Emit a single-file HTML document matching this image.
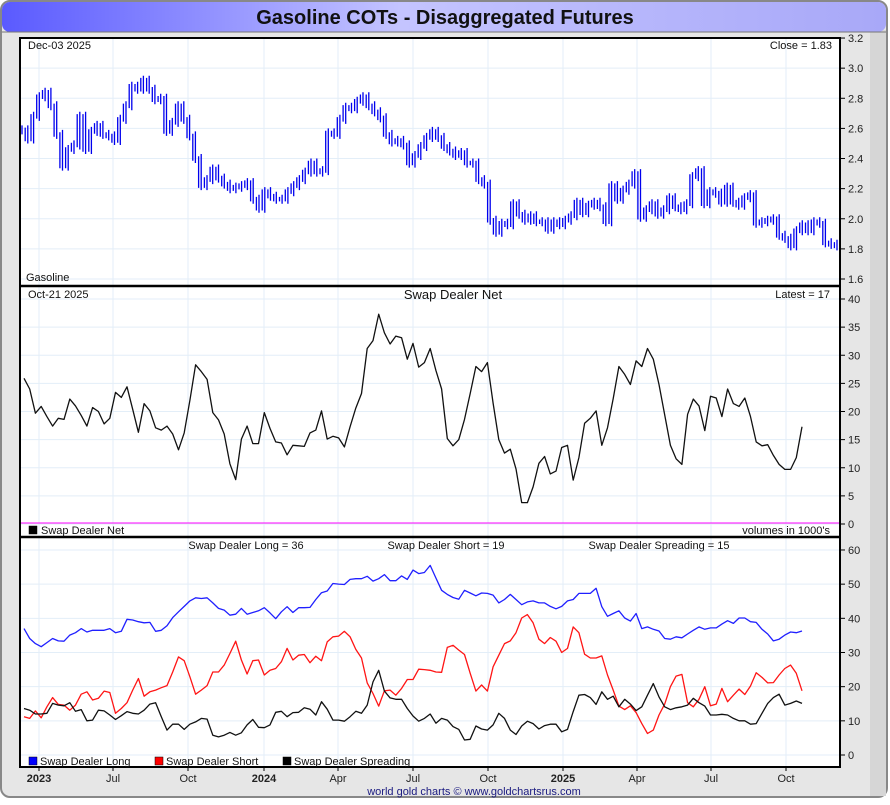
<!DOCTYPE html>
<html><head><meta charset="utf-8">
<style>
html,body{margin:0;padding:0;background:#fff;}
body{width:890px;height:800px;overflow:hidden;font-family:"Liberation Sans",sans-serif;}
svg text{font-family:"Liberation Sans",sans-serif;}
</style></head>
<body>
<svg id="chart" width="890" height="800" viewBox="0 0 890 800" xmlns="http://www.w3.org/2000/svg">
<defs>
<linearGradient id="tg" x1="0" x2="1" y1="0" y2="0">
<stop offset="0" stop-color="#5a5aff"/><stop offset="0.45" stop-color="#c4c4ff"/><stop offset="1" stop-color="#a8a8f8"/>
</linearGradient>
</defs>
<rect x="0" y="0" width="890" height="800" fill="#ffffff"/>
<rect x="1" y="1" width="886" height="796" rx="9" fill="#e6e6e6" stroke="#888" stroke-width="2"/>
<rect x="870" y="30" width="16" height="766" fill="#d6d6d6"/>
<rect x="2" y="2" width="884" height="30" rx="8" fill="url(#tg)"/>
<line x1="2" y1="32" x2="886" y2="32" stroke="#777" stroke-width="1"/>
<text x="445" y="24" text-anchor="middle" font-size="20" font-weight="bold" fill="#111">Gasoline COTs - Disaggregated Futures</text>
<rect x="20" y="38" width="820" height="729" fill="#fff"/>
<g id="grid"></g>
<g id="series"></g>
<g id="axes"></g>
</svg>
<script>
// ---- data ----
const priceVals = [2.59,2.53,2.68,2.81,2.84,2.75,2.56,2.35,2.46,2.49,2.68,2.46,2.58,2.62,2.56,2.55,2.52,2.66,2.75,2.88,2.86,2.92,2.86,2.79,2.80,2.58,2.64,2.75,2.66,2.55,2.40,2.22,2.26,2.33,2.27,2.23,2.20,2.21,2.22,2.24,2.13,2.07,2.18,2.15,2.13,2.13,2.18,2.22,2.26,2.31,2.37,2.31,2.32,2.57,2.56,2.66,2.74,2.73,2.78,2.81,2.75,2.71,2.67,2.56,2.51,2.52,2.49,2.37,2.42,2.48,2.54,2.58,2.54,2.48,2.45,2.42,
2.44,2.37,2.37,2.26,2.23,1.99,1.91,1.97,1.96,2.10,2.03,1.99,2.02,1.98,1.98,1.93,1.98,1.96,1.99,2.02,2.11,2.04,2.09,2.11,2.08,1.98,2.22,2.13,2.19,2.23,2.30,2.01,2.06,2.10,2.03,2.06,2.14,2.08,2.06,2.10,2.28,2.32,2.10,2.18,2.17,2.11,2.21,2.11,2.09,2.14,2.16,1.97,1.98,1.99,2.00,1.89,1.87,1.82,1.92,1.96,1.92,1.98,1.97,1.84,1.83,1.82];
const netVals = [25.9,24.0,19.7,20.9,19.1,17.4,18.8,18.6,22.2,21.0,19.3,17.4,20.7,20.0,17.8,18.8,23.4,22.5,24.4,20.4,16.3,21.4,20.1,17.1,16.7,17.4,16.0,13.2,16.2,22.0,28.3,27.1,25.7,19.8,18.5,16.0,10.7,7.9,15.1,17.4,14.3,14.3,19.8,17.0,14.6,14.4,12.3,14.0,13.9,13.8,16.2,16.7,20.1,15.1,15.6,15.3,13.7,17.3,20.6,23.2,31.2,32.6,37.3,34.0,32.0,33.4,33.1,29.3,32.1,27.9,28.7,31.2,27.3,
24.0,15.2,13.9,15.0,18.6,23.2,28.0,27.1,28.7,21.5,15.0,12.6,13.3,9.8,3.8,3.8,6.6,10.8,12.0,8.9,9.4,13.6,14.0,7.8,11.8,17.9,18.8,20.1,14.0,17.1,22.3,28.0,26.6,24.8,29.0,28.0,31.2,29.3,24.8,19.4,14.0,11.6,10.6,19.5,22.2,21.0,16.6,22.7,22.4,19.1,24.0,21.4,20.9,22.4,19.1,14.6,13.9,14.1,12.2,10.6,9.7,9.7,11.8,17.3];
const longVals = [37.0,34.1,32.6,31.7,32.9,34.1,33.4,33.3,35.1,35.8,37.0,36.0,36.5,36.5,36.5,37.0,35.8,36.2,39.7,39.5,39.0,38.7,38.8,36.2,36.5,37.8,40.2,41.9,43.5,45.1,46.0,45.8,46.0,44.5,42.9,42.4,40.9,41.2,42.9,41.2,41.7,42.2,43.1,41.6,39.9,41.9,43.4,41.7,43.1,43.1,43.2,45.5,47.5,48.0,50.2,50.0,49.9,51.4,51.6,51.6,52.3,50.9,51.6,52.8,51.0,51.0,52.4,51.4,54.1,53.1,53.4,55.5,51.8,
48.2,47.0,46.1,45.6,48.2,47.4,46.6,47.4,47.3,46.8,44.5,45.5,47.0,45.5,44.0,44.8,45.1,44.5,44.5,43.5,42.8,43.5,45.1,45.5,47.3,47.3,47.3,48.8,43.4,40.6,41.4,42.2,40.1,39.2,41.4,37.0,37.5,36.8,36.3,34.1,33.9,34.6,34.3,35.4,36.5,37.5,36.8,37.2,37.2,38.3,39.3,38.5,40.1,40.1,39.0,38.8,36.8,35.4,33.4,33.9,35.1,36.0,35.8,36.3];
const shortVals = [11.2,10.7,12.9,10.9,14.1,16.8,14.8,14.6,13.1,14.6,17.8,18.5,16.1,16.6,18.7,18.3,12.2,13.6,15.3,19.0,22.4,17.2,18.5,19.0,19.7,20.3,24.3,28.7,27.6,22.9,17.8,19.0,20.3,24.3,24.3,26.3,29.7,33.3,27.8,23.7,27.6,27.8,23.4,24.8,25.3,27.3,31.2,27.8,29.2,29.4,27.0,28.9,27.6,33.1,34.6,34.8,36.2,34.6,30.9,28.4,21.1,18.0,14.3,18.8,19.0,17.5,19.5,22.1,22.1,25.1,25.0,24.8,24.3,
24.2,31.5,32.1,30.7,29.4,23.9,18.7,20.5,18.7,25.8,29.2,32.6,33.4,35.8,40.1,41.1,38.7,33.9,32.6,34.4,33.3,30.0,31.2,37.5,35.8,29.5,28.4,28.4,29.0,23.4,19.0,14.3,13.3,14.4,12.4,9.2,6.3,7.3,11.7,14.9,20.0,23.1,23.6,15.3,14.1,16.3,20.0,14.4,14.9,19.5,15.6,17.5,19.3,17.7,20.2,24.1,22.7,21.1,21.2,23.4,25.3,26.3,23.9,18.8];
const spreadVals = [13.6,13.1,12.0,12.0,12.2,15.1,14.6,14.4,15.3,12.8,13.3,10.0,10.2,13.1,12.9,11.7,10.4,11.5,12.7,12.2,12.0,13.1,14.9,15.3,11.2,7.3,9.0,9.0,7.5,9.0,9.7,10.7,10.5,5.8,5.3,5.8,6.6,5.8,6.5,8.8,10.4,8.1,8.0,8.8,12.5,12.8,11.2,12.4,12.5,13.8,13.4,11.7,15.6,13.4,10.2,10.2,9.9,11.2,12.8,12.2,14.6,21.4,24.8,18.7,16.7,16.3,16.3,13.6,11.4,9.9,10.7,12.0,9.3,
10.7,10.2,8.3,7.5,4.4,4.6,8.5,7.6,7.3,8.8,12.2,10.7,7.3,6.0,8.5,9.9,9.2,7.6,8.6,9.0,9.0,6.8,7.5,12.7,17.5,17.7,16.8,14.8,18.5,16.3,17.2,14.1,16.3,14.9,13.0,14.1,17.5,20.9,17.0,14.1,13.3,13.8,14.1,14.6,16.6,15.3,14.3,11.7,11.7,11.9,11.7,10.7,10.0,10.0,9.0,9.2,12.2,15.1,16.8,17.8,14.6,15.1,15.8,15.1];
const xLabels = ["2023","Jul","Oct","2024","Apr","Jul","Oct","2025","Apr","Jul","Oct"];
const priceTicks = [3.2,3.0,2.8,2.6,2.4,2.2,2.0,1.8,1.6];
const netTicks = [40,35,30,25,20,15,10,5,0];
const legTicks = [60,50,40,30,20,10,0];

// ---- layout ----
const NS = "http://www.w3.org/2000/svg";
const L = 20, R = 840;
const xLabelPx = [39,113,188,264,338,413,488,563,637,711,786];
const yP = v => 279 - (v - 1.6) * 150.6;
const yN = v => 524 - v * 5.625;
const yL = v => 755 - v * 3.417;
const xPrice = i => 22 + i * (837 - 22) / (priceVals.length - 1);
const xCot = i => 24 + i * (802 - 24) / (netVals.length - 1);

function mk(tag, attrs, parent, txt){
  const e = document.createElementNS(NS, tag);
  for (const k in attrs) e.setAttribute(k, attrs[k]);
  if (txt !== undefined) e.textContent = txt;
  parent.appendChild(e);
  return e;
}
const grid = document.getElementById('grid');
const series = document.getElementById('series');
const axes = document.getElementById('axes');
const GC = "#e3eef8";

xLabelPx.forEach((x, i) => {
  const g = mk('line', {x1:x, x2:x, y1:38, y2:767, stroke:GC, 'stroke-width':1}, grid);
  
  
  const bold = /^\d{4}$/.test(xLabels[i]);
  const t = mk('text', {x:x, y:782, 'text-anchor':'middle', 'font-size':11, 'font-weight': bold ? 'bold' : 'normal', fill:'#222'}, axes, xLabels[i]);
  
  
  const tk = mk('line', {x1:x, x2:x, y1:767, y2:771, stroke:'#000'}, axes);
  
  
});

function yAxis(ticks, fy, fmt, name){
  ticks.forEach(v => {
    const y = fy(v);
    const g = mk('line', {x1:L, x2:R, y1:y, y2:y, stroke:GC, 'stroke-width':1}, grid);
    
    
    const tk = mk('line', {x1:R, x2:R+5, y1:y, y2:y, stroke:'#000'}, axes);
    
    
    const t = mk('text', {x:R+8, y:y+4, 'font-size':11, fill:'#222'}, axes, fmt(v));
    
    
  });
}
yAxis(priceTicks, yP, v => v.toFixed(1), 'price-axis');
yAxis(netTicks, yN, v => String(v), 'net-axis');
yAxis(legTicks, yL, v => String(v), 'legs-axis');

// price bars (high-low style)
let pd = '';
priceVals.forEach((v, i) => {
  const x = xPrice(i);
  const prev = i ? priceVals[i-1] : v;
  const hi = Math.max(v, prev) + 0.03, lo = Math.min(v, prev) - 0.03;
  pd += `M${x.toFixed(1)},${yP(hi).toFixed(1)}V${yP(lo).toFixed(1)}`;
  if (i) {
    const xm = x - 2.6;
    pd += `M${xm.toFixed(1)},${yP(Math.max(v,prev)+0.015).toFixed(1)}V${yP(Math.min(v,prev)-0.015).toFixed(1)}`;
  }
});
const pp = mk('path', {d:pd, stroke:'#0000ee', 'stroke-width':1.3, fill:'none'}, series);



function line(vals, fy, color, name){
  const pts = vals.map((v, i) => xCot(i).toFixed(1) + ',' + fy(v).toFixed(1)).join(' ');
  const p = mk('polyline', {points:pts, stroke:color, 'stroke-width':1.3, fill:'none', 'stroke-linejoin':'round'}, series);
  
  
}
line(netVals, yN, '#111', 'swap-dealer-net-line');
line(longVals, yL, '#2020ff', 'swap-dealer-long-line');
line(shortVals, yL, '#ff1515', 'swap-dealer-short-line');
line(spreadVals, yL, '#111', 'swap-dealer-spreading-line');

mk('line', {x1:L, x2:R, y1:523, y2:523, stroke:'#ff00ff', 'stroke-width':1}, axes);
mk('rect', {x:L, y:38, width:R-L, height:729, fill:'none', stroke:'#000', 'stroke-width':2}, axes);
mk('line', {x1:L, x2:R, y1:286, y2:286, stroke:'#000', 'stroke-width':2.5}, axes);
mk('line', {x1:L, x2:R, y1:537, y2:537, stroke:'#000', 'stroke-width':2.5}, axes);

function txt(x, y, s, name, opts){
  const t = mk('text', Object.assign({x:x, y:y, 'font-size':11, fill:'#111'}, opts || {}), axes, s);
  
  
}
txt(28, 49, 'Dec-03  2025', 'price-date-label');
txt(832, 49, 'Close = 1.83', 'close-label', {'text-anchor':'end'});
txt(26, 281, 'Gasoline', 'price-panel-label');
txt(28, 298, 'Oct-21  2025', 'net-date-label');
txt(453, 299, 'Swap Dealer Net', 'net-panel-title', {'text-anchor':'middle', 'font-size':13});
txt(830, 298, 'Latest = 17', 'latest-label', {'text-anchor':'end'});
txt(41, 534, 'Swap Dealer Net', 'net-legend-label');
txt(830, 534, "volumes in 1000's", 'volumes-note', {'text-anchor':'end'});
txt(246, 549, 'Swap Dealer Long = 36', 'long-value-label', {'text-anchor':'middle'});
txt(446, 549, 'Swap Dealer Short = 19', 'short-value-label', {'text-anchor':'middle'});
txt(659, 549, 'Swap Dealer Spreading = 15', 'spreading-value-label', {'text-anchor':'middle'});
txt(40, 765, 'Swap Dealer Long', 'long-legend-label');
txt(166, 765, 'Swap Dealer Short', 'short-legend-label');
txt(294, 765, 'Swap Dealer Spreading', 'spreading-legend-label');
txt(474, 795, 'world gold charts \u00a9 www.goldchartsrus.com', 'footer-credit', {'text-anchor':'middle', fill:'#1a1a80'});

function sq(x, y, c, name){
  const r = mk('rect', {x:x, y:y, width:8, height:8, fill:c, stroke:'#000', 'stroke-width':0.5}, axes);
  
  
}
sq(29, 526, '#000', 'net-legend-swatch');
sq(29, 757, '#0000ff', 'long-legend-swatch');
sq(155, 757, '#ff0000', 'short-legend-swatch');
sq(283, 757, '#000', 'spreading-legend-swatch');
</script>
</body></html>
